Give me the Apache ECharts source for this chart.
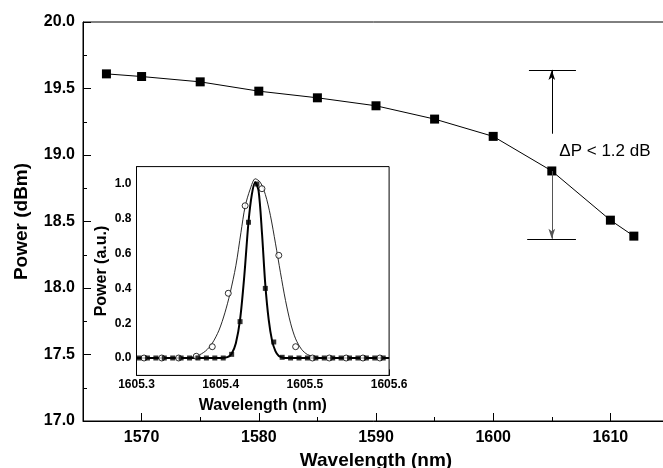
<!DOCTYPE html>
<html>
<head>
<meta charset="utf-8">
<script src="https://cdn.jsdelivr.net/npm/echarts@6/dist/echarts.min.js"></script>
<style>
  html, body { margin: 0; padding: 0; background: #fff; }
  #chart { width: 663px; height: 468px; }
</style>
</head>
<body>
<div id="chart"></div>
<script>
// main plot: output power vs wavelength
const mainWavelength = [1567, 1570, 1575, 1580, 1585, 1590, 1595, 1600, 1605, 1610, 1612];
const mainPower = [19.61, 19.59, 19.55, 19.48, 19.43, 19.37, 19.27, 19.14, 18.88, 18.51, 18.39];
const mainXTicks = [1570, 1580, 1590, 1600, 1610];
const mainYTicks = [17.0, 17.5, 18.0, 18.5, 19.0, 19.5, 20.0];

// delta P annotation (data units)
const deltaTop = 19.64;
const deltaBottom = 18.37;
const deltaArrowX = 1605;
const deltaUpFrom = 19.16;
const deltaDownFrom = 18.88;
const deltaLabel = 'ΔP < 1.2 dB';

// inset: normalized spectra
const circleWl = [1605.309, 1605.330, 1605.350, 1605.371, 1605.390, 1605.409, 1605.429, 1605.449,
  1605.469, 1605.489, 1605.509, 1605.529, 1605.549, 1605.569, 1605.589];
const circlePow = [0, 0, 0, 0.01, 0.065, 0.372, 0.875, 0.973, 0.59, 0.065, 0, 0, 0, 0, 0];
const squareWl = [1605.303, 1605.313, 1605.323, 1605.333, 1605.343, 1605.353, 1605.363, 1605.373,
  1605.383, 1605.393, 1605.403, 1605.413, 1605.423, 1605.433, 1605.443, 1605.453, 1605.463,
  1605.473, 1605.483, 1605.493, 1605.503, 1605.513, 1605.523, 1605.533, 1605.543, 1605.553,
  1605.563, 1605.573, 1605.583, 1605.593];
const squarePow = [0, 0, 0, 0, 0, 0, 0, 0, 0, 0, 0, 0.021, 0.209, 0.78, 1.0, 0.40, 0.092,
  0.004, 0, 0, 0, 0, 0, 0, 0, 0, 0, 0, 0, 0];
// fitted curves
const wideFitWl = [1605.300, 1605.350, 1605.362, 1605.372, 1605.382, 1605.390, 1605.398, 1605.405,
  1605.411, 1605.418, 1605.424, 1605.429, 1605.435, 1605.441, 1605.447, 1605.453, 1605.459,
  1605.465, 1605.471, 1605.477, 1605.483, 1605.489, 1605.496, 1605.503, 1605.512, 1605.525, 1605.600];
const wideFitPow = [0, 0, 0.003, 0.012, 0.04, 0.085, 0.16, 0.26, 0.37, 0.53, 0.72, 0.87, 0.97,
  1.03, 1.01, 0.94, 0.82, 0.66, 0.49, 0.33, 0.20, 0.11, 0.05, 0.02, 0.006, 0.001, 0];
const narrowFitWl = [1605.300, 1605.400, 1605.408, 1605.413, 1605.418, 1605.423, 1605.428, 1605.433,
  1605.437, 1605.441, 1605.445, 1605.449, 1605.453, 1605.457, 1605.461, 1605.465, 1605.469,
  1605.474, 1605.480, 1605.600];
const narrowFitPow = [0, 0, 0.005, 0.025, 0.085, 0.22, 0.47, 0.78, 0.94, 1.01, 0.96, 0.72, 0.42,
  0.22, 0.10, 0.04, 0.012, 0.002, 0, 0];
const insetXTicks = [1605.3, 1605.4, 1605.5, 1605.6];
const insetYTicks = [0, 0.2, 0.4, 0.6, 0.8, 1.0];

const FONT = 'Liberation Sans, Arial, sans-serif';
const pairs = (xs, ys) => xs.map((x, i) => [x, ys[i]]);

function axis(o) {
  // one value axis; either the minor-tick/label axis or a major-tick overlay
  return {
    type: 'value',
    gridIndex: o.grid,
    position: o.position,
    min: o.min,
    max: o.max,
    interval: o.interval,
    axisLine: { show: !o.overlay, onZero: false, lineStyle: { color: '#000', width: 1 } },
    axisTick: o.overlay
      ? { inside: true, length: o.tick, customValues: o.labels, lineStyle: { color: '#000' } }
      : { inside: true, length: o.tick, lineStyle: { color: '#000' } },
    axisLabel: o.overlay ? { show: false } : {
      customValues: o.labels,
      formatter: v => o.digits >= 0 ? Number(v).toFixed(o.digits) : String(v),
      color: '#000', fontFamily: FONT, fontWeight: 'bold', fontSize: o.fontSize, margin: o.margin
    },
    splitLine: { show: false },
    name: o.overlay ? '' : o.name,
    nameLocation: 'middle',
    nameGap: o.nameGap,
    nameTextStyle: { color: '#000', fontFamily: FONT, fontWeight: 'bold', fontSize: o.nameSize }
  };
}

const chart = echarts.init(document.getElementById('chart'));
chart.setOption({
  animation: false,
  backgroundColor: '#fff',
  grid: [
    { left: 83, top: 22, width: 586, height: 399, show: true, borderColor: '#000', borderWidth: 1,
      containLabel: false, outerBoundsMode: 'none' },
    { left: 136.5, top: 166.6, width: 252.6, height: 208.8, show: true, backgroundColor: '#fff',
      borderColor: '#000', borderWidth: 1, containLabel: false, outerBoundsMode: 'none', z: 5 }
  ],
  xAxis: [
    axis({ grid: 0, position: 'bottom', min: 1565, max: 1615, interval: 5, tick: 4, labels: mainXTicks,
      digits: -1, fontSize: 16, margin: 9, name: 'Wavelength (nm)', nameGap: 29, nameSize: 19 }),
    axis({ grid: 0, position: 'bottom', min: 1565, max: 1615, interval: 5, tick: 8, labels: mainXTicks, overlay: true }),
    axis({ grid: 1, position: 'bottom', min: 1605.3, max: 1605.6, interval: 0.05, tick: 3, labels: insetXTicks,
      digits: 1, fontSize: 12, margin: 3, name: 'Wavelength (nm)', nameGap: 22, nameSize: 16 }),
    axis({ grid: 1, position: 'bottom', min: 1605.3, max: 1605.6, interval: 0.05, tick: 6, labels: insetXTicks, overlay: true })
  ],
  yAxis: [
    axis({ grid: 0, position: 'left', min: 17, max: 20, interval: 0.25, tick: 4, labels: mainYTicks,
      digits: 1, fontSize: 16, margin: 8, name: 'Power (dBm)', nameGap: 52, nameSize: 19 }),
    axis({ grid: 0, position: 'left', min: 17, max: 20, interval: 0.25, tick: 8, labels: mainYTicks, overlay: true }),
    axis({ grid: 1, position: 'left', min: -0.1, max: 1.1, interval: 0.1, tick: 3, labels: insetYTicks,
      digits: 1, fontSize: 12, margin: 5, name: 'Power (a.u.)', nameGap: 27, nameSize: 16 }),
    axis({ grid: 1, position: 'left', min: -0.1, max: 1.1, interval: 0.1, tick: 6, labels: insetYTicks, overlay: true })
  ],
  series: [
    {
      type: 'line', xAxisIndex: 0, yAxisIndex: 0,
      data: pairs(mainWavelength, mainPower),
      symbol: 'rect', symbolSize: 9,
      itemStyle: { color: '#000' },
      lineStyle: { color: '#000', width: 1 },
      markLine: {
        silent: true,
        symbol: ['none', 'none'],
        label: { show: false },
        lineStyle: { color: '#000', width: 1, type: 'solid' },
        data: [
          [{ coord: [1603.05, deltaTop] }, { coord: [1607.06, deltaTop] }],
          [{ coord: [1602.9, deltaBottom] }, { coord: [1607.06, deltaBottom] }],
          [{ coord: [deltaArrowX, deltaUpFrom] },
           { coord: [deltaArrowX, deltaTop], symbol: 'arrow', symbolSize: [5, 10] }],
          [{ coord: [deltaArrowX, deltaDownFrom], lineStyle: { color: '#555' } },
           { coord: [deltaArrowX, deltaBottom], symbol: 'arrow', symbolSize: [5, 10] }]
        ]
      },
      markPoint: {
        silent: true,
        data: [{
          coord: [1605.6, 19.03], symbol: 'circle', symbolSize: 1,
          itemStyle: { color: 'rgba(0,0,0,0)' },
          label: { show: true, position: 'right', distance: 0, formatter: deltaLabel,
            color: '#000', fontFamily: FONT, fontSize: 17 }
        }]
      }
    },
    {
      type: 'line', xAxisIndex: 2, yAxisIndex: 2, z: 6,
      data: pairs(wideFitWl, wideFitPow), smooth: 0.3, symbol: 'none',
      lineStyle: { color: '#111', width: 0.9 }
    },
    {
      type: 'line', xAxisIndex: 2, yAxisIndex: 2, z: 6,
      data: pairs(narrowFitWl, narrowFitPow), smooth: 0.3, symbol: 'none',
      lineStyle: { color: '#000', width: 2 }
    },
    {
      type: 'scatter', xAxisIndex: 2, yAxisIndex: 2, z: 7,
      data: pairs(circleWl, circlePow), symbol: 'circle', symbolSize: 6,
      itemStyle: { color: '#fff', borderColor: '#000', borderWidth: 1 }
    },
    {
      type: 'scatter', xAxisIndex: 2, yAxisIndex: 2, z: 7,
      data: pairs(squareWl, squarePow), symbol: 'rect', symbolSize: 5,
      itemStyle: { color: '#000' }
    }
  ]
});
</script>
</body>
</html>
